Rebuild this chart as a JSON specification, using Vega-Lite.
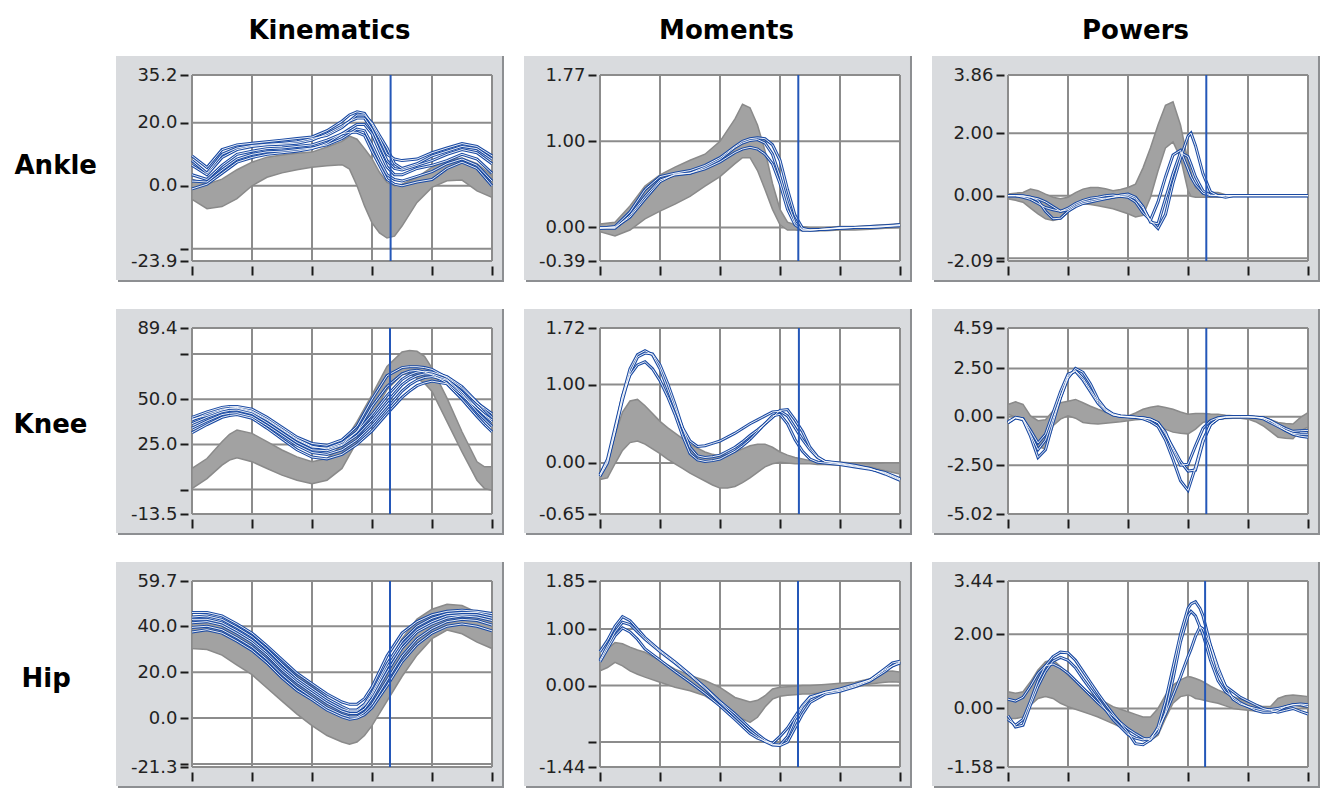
{
"$schema": "https://vega.github.io/schema/vega-lite/v6.json",
"background": "white",
"padding": {"left": 13, "top": 17, "right": 2, "bottom": 1},
"autosize": {"type": "pad"},
"columns": 3,
"spacing": {"row": 67, "column": 108},
"bounds": "flush",
"datasets": {
"xgrid": [{"pct": 0}, {"pct": 20}, {"pct": 40}, {"pct": 60}, {"pct": 80}, {"pct": 100}],
"ygrid": [
{"panel": "AK", "val": 35.2}, {"panel": "AK", "val": 20}, {"panel": "AK", "val": 0}, {"panel": "AK", "val": -20}, {"panel": "AK", "val": -23.9},
{"panel": "AM", "val": 1.77}, {"panel": "AM", "val": 1}, {"panel": "AM", "val": 0}, {"panel": "AM", "val": -0.39},
{"panel": "AP", "val": 3.86}, {"panel": "AP", "val": 2}, {"panel": "AP", "val": 0}, {"panel": "AP", "val": -2}, {"panel": "AP", "val": -2.09},
{"panel": "KK", "val": 89.4}, {"panel": "KK", "val": 75}, {"panel": "KK", "val": 50}, {"panel": "KK", "val": 25}, {"panel": "KK", "val": 0}, {"panel": "KK", "val": -13.5},
{"panel": "KM", "val": 1.72}, {"panel": "KM", "val": 1}, {"panel": "KM", "val": 0}, {"panel": "KM", "val": -0.65},
{"panel": "KP", "val": 4.59}, {"panel": "KP", "val": 2.5}, {"panel": "KP", "val": 0}, {"panel": "KP", "val": -2.5}, {"panel": "KP", "val": -5.02},
{"panel": "HK", "val": 59.7}, {"panel": "HK", "val": 40}, {"panel": "HK", "val": 20}, {"panel": "HK", "val": 0}, {"panel": "HK", "val": -20}, {"panel": "HK", "val": -21.3},
{"panel": "HM", "val": 1.85}, {"panel": "HM", "val": 1}, {"panel": "HM", "val": 0}, {"panel": "HM", "val": -1}, {"panel": "HM", "val": -1.44},
{"panel": "HP", "val": 3.44}, {"panel": "HP", "val": 2}, {"panel": "HP", "val": 0}, {"panel": "HP", "val": -1.58}
],
"events": [
{"panel": "AK", "toeoff": 66.2}, {"panel": "AM", "toeoff": 66.1}, {"panel": "AP", "toeoff": 66.1},
{"panel": "KK", "toeoff": 66.0}, {"panel": "KM", "toeoff": 66.3}, {"panel": "KP", "toeoff": 66.1},
{"panel": "HK", "toeoff": 66.0}, {"panel": "HM", "toeoff": 66.0}, {"panel": "HP", "toeoff": 65.7}
],
"gait": [
{"panel":"AK","pct":0,"lo":-4.3,"hi":2.1,"t1":9.5,"t2":6.5,"t3":3.5,"t4":1.5,"t5":-1,"t6":8},
{"panel":"AK","pct":5,"lo":-7.3,"hi":0.5,"t1":5.8,"t2":3.5,"t3":2,"t4":1.2,"t5":0.5,"t6":4},
{"panel":"AK","pct":10,"lo":-6.6,"hi":2.1,"t1":11.5,"t2":9,"t3":6.5,"t4":5,"t5":4,"t6":10},
{"panel":"AK","pct":15,"lo":-4.1,"hi":5.1,"t1":13,"t2":11.5,"t3":10,"t4":8.5,"t5":7.5,"t6":12},
{"panel":"AK","pct":20,"lo":0,"hi":7.5,"t1":13.5,"t2":12.5,"t3":11,"t4":10,"t5":9,"t6":12.8},
{"panel":"AK","pct":25,"lo":2.7,"hi":9.1,"t1":14,"t2":13,"t3":11.8,"t4":10.8,"t5":10,"t6":13.2},
{"panel":"AK","pct":30,"lo":4.1,"hi":9.8,"t1":14.5,"t2":13.2,"t3":12,"t4":11,"t5":10.5,"t6":13.5},
{"panel":"AK","pct":35,"lo":5.1,"hi":10.3,"t1":15,"t2":13.5,"t3":12.5,"t4":11.5,"t5":11,"t6":14},
{"panel":"AK","pct":40,"lo":5.9,"hi":10.7,"t1":15.5,"t2":14.5,"t3":13,"t4":12,"t5":11.8,"t6":15},
{"panel":"AK","pct":45,"lo":6.4,"hi":12.3,"t1":17.5,"t2":16.5,"t3":14.5,"t4":13,"t5":13.5,"t6":16},
{"panel":"AK","pct":50,"lo":6.7,"hi":14.1,"t1":20.5,"t2":19,"t3":16.5,"t4":15,"t5":16.5,"t6":18.5},
{"panel":"AK","pct":52.5,"lo":5.3,"hi":15.8,"t1":22.5,"t2":20.5,"t3":18,"t4":16.5,"t5":17,"t6":20.5},
{"panel":"AK","pct":55,"lo":0,"hi":14.8,"t1":23.5,"t2":21.5,"t3":19.5,"t4":18,"t5":17,"t6":22.5},
{"panel":"AK","pct":57.5,"lo":-6.4,"hi":11.8,"t1":23,"t2":21.5,"t3":19.5,"t4":17.5,"t5":16,"t6":22.5},
{"panel":"AK","pct":60,"lo":-11.8,"hi":8.6,"t1":19.5,"t2":18,"t3":16.5,"t4":13,"t5":11,"t6":20},
{"panel":"AK","pct":62.5,"lo":-15,"hi":4.3,"t1":15,"t2":13,"t3":11,"t4":8,"t5":6.5,"t6":16},
{"panel":"AK","pct":65,"lo":-16.6,"hi":1.1,"t1":10,"t2":8,"t3":6,"t4":3.5,"t5":2,"t6":12},
{"panel":"AK","pct":67.5,"lo":-16,"hi":0,"t1":8.5,"t2":5.5,"t3":3.5,"t4":2,"t5":0.5,"t6":7},
{"panel":"AK","pct":70,"lo":-12.8,"hi":0.5,"t1":8,"t2":5,"t3":3.5,"t4":1.5,"t5":0,"t6":5.5},
{"panel":"AK","pct":75,"lo":-5.3,"hi":2.7,"t1":8.5,"t2":6.5,"t3":5.5,"t4":3,"t5":1.2,"t6":7},
{"panel":"AK","pct":80,"lo":-0.5,"hi":5.9,"t1":10.5,"t2":8,"t3":6.5,"t4":4.5,"t5":2,"t6":9.5},
{"panel":"AK","pct":85,"lo":1.6,"hi":8,"t1":12,"t2":10,"t3":8,"t4":7,"t5":5.5,"t6":11},
{"panel":"AK","pct":90,"lo":1.8,"hi":8.8,"t1":13.4,"t2":11.5,"t3":10,"t4":8.5,"t5":7.5,"t6":12.5},
{"panel":"AK","pct":95,"lo":-1.6,"hi":7,"t1":12.5,"t2":10.5,"t3":8.5,"t4":6.5,"t5":5.5,"t6":11.8},
{"panel":"AK","pct":100,"lo":-3.7,"hi":3.2,"t1":9.5,"t2":7,"t3":4,"t4":1.5,"t5":0,"t6":8.5},

{"panel":"KK","pct":0,"lo":0.6,"hi":11.7,"t1":40,"t2":38.5,"t3":36.5,"t4":34,"t5":31.5,"t6":39},
{"panel":"KK","pct":5,"lo":6.1,"hi":17.2,"t1":43,"t2":42,"t3":40,"t4":38,"t5":36,"t6":41},
{"panel":"KK","pct":10,"lo":13.5,"hi":26.5,"t1":45.5,"t2":44.5,"t3":43,"t4":41.5,"t5":40,"t6":44},
{"panel":"KK","pct":12.5,"lo":16.3,"hi":30.6,"t1":46,"t2":45,"t3":43.8,"t4":42.2,"t5":41,"t6":45},
{"panel":"KK","pct":15,"lo":17.6,"hi":33,"t1":46,"t2":45,"t3":44,"t4":42.5,"t5":41.5,"t6":45.5},
{"panel":"KK","pct":20,"lo":15.4,"hi":31.1,"t1":44.5,"t2":43,"t3":42,"t4":40.5,"t5":39.5,"t6":43.5},
{"panel":"KK","pct":25,"lo":11.7,"hi":26.5,"t1":40,"t2":38.5,"t3":37,"t4":35.5,"t5":34,"t6":39},
{"panel":"KK","pct":30,"lo":8,"hi":21.9,"t1":34.5,"t2":33,"t3":31.5,"t4":30,"t5":28,"t6":33.5},
{"panel":"KK","pct":35,"lo":5.2,"hi":18.1,"t1":29,"t2":27.5,"t3":26,"t4":24.5,"t5":22,"t6":28},
{"panel":"KK","pct":40,"lo":3.3,"hi":15.4,"t1":25.5,"t2":23.5,"t3":22,"t4":20.5,"t5":18,"t6":24},
{"panel":"KK","pct":45,"lo":5.2,"hi":17.2,"t1":24.5,"t2":23,"t3":21.5,"t4":19.5,"t5":17,"t6":22.5},
{"panel":"KK","pct":50,"lo":11.7,"hi":24.6,"t1":27.5,"t2":26,"t3":24.5,"t4":22,"t5":19.5,"t6":25},
{"panel":"KK","pct":55,"lo":26.5,"hi":37.6,"t1":35,"t2":32,"t3":30,"t4":27.5,"t5":25,"t6":32},
{"panel":"KK","pct":60,"lo":41.3,"hi":52.4,"t1":50,"t2":41.5,"t3":38.5,"t4":35.5,"t5":32.5,"t6":46},
{"panel":"KK","pct":65,"lo":55.2,"hi":68.1,"t1":63,"t2":52,"t3":48.5,"t4":45,"t5":42,"t6":57},
{"panel":"KK","pct":70,"lo":63.5,"hi":76.1,"t1":67.5,"t2":61,"t3":58,"t4":54.5,"t5":51,"t6":64},
{"panel":"KK","pct":72.5,"lo":64.4,"hi":76.9,"t1":68,"t2":63.5,"t3":61,"t4":58,"t5":54.5,"t6":65.5},
{"panel":"KK","pct":75,"lo":61.5,"hi":76.5,"t1":68,"t2":65,"t3":63,"t4":60.5,"t5":57.5,"t6":66},
{"panel":"KK","pct":77.5,"lo":58.9,"hi":73.7,"t1":67.5,"t2":65.5,"t3":64,"t4":62,"t5":59,"t6":65},
{"panel":"KK","pct":80,"lo":54.3,"hi":67.2,"t1":66.5,"t2":65,"t3":64,"t4":62.5,"t5":60,"t6":63.5},
{"panel":"KK","pct":85,"lo":37.6,"hi":50.6,"t1":62,"t2":62.5,"t3":61,"t4":60.5,"t5":58.5,"t6":59},
{"panel":"KK","pct":90,"lo":20.9,"hi":32,"t1":56,"t2":57,"t3":54,"t4":53,"t5":50,"t6":52},
{"panel":"KK","pct":95,"lo":5.2,"hi":15.4,"t1":48,"t2":48.5,"t3":45,"t4":43,"t5":40.5,"t6":45},
{"panel":"KK","pct":97.5,"lo":0.6,"hi":12.6,"t1":45,"t2":44,"t3":41,"t4":39,"t5":36,"t6":41.5},
{"panel":"KK","pct":100,"lo":-0.4,"hi":12.6,"t1":42,"t2":40,"t3":37.5,"t4":35,"t5":32,"t6":38.5},

{"panel":"HK","pct":0,"lo":30.3,"hi":41.7,"t1":46,"t2":44,"t3":41.5,"t4":39.5,"t5":37.5,"t6":43},
{"panel":"HK","pct":5,"lo":29.9,"hi":42,"t1":46,"t2":44.5,"t3":42,"t4":40,"t5":38.5,"t6":43},
{"panel":"HK","pct":10,"lo":27.4,"hi":40.3,"t1":44.5,"t2":43,"t3":40.5,"t4":38.5,"t5":37,"t6":41.5},
{"panel":"HK","pct":15,"lo":23.1,"hi":37.4,"t1":41,"t2":39.5,"t3":37,"t4":35,"t5":33.5,"t6":38},
{"panel":"HK","pct":20,"lo":18.9,"hi":33.9,"t1":37,"t2":35.5,"t3":33,"t4":31,"t5":29.5,"t6":34},
{"panel":"HK","pct":25,"lo":13.1,"hi":28.9,"t1":31.5,"t2":30,"t3":27.5,"t4":25.5,"t5":24,"t6":28.5},
{"panel":"HK","pct":30,"lo":7.4,"hi":23.9,"t1":25.5,"t2":23.5,"t3":21,"t4":19,"t5":17.5,"t6":22},
{"panel":"HK","pct":35,"lo":1.7,"hi":18.9,"t1":19.5,"t2":17.5,"t3":15.5,"t4":13.5,"t5":12,"t6":16.5},
{"panel":"HK","pct":40,"lo":-3.3,"hi":13.9,"t1":15,"t2":13,"t3":11,"t4":9,"t5":8,"t6":12},
{"panel":"HK","pct":45,"lo":-7.6,"hi":8.9,"t1":10.5,"t2":8.5,"t3":6.5,"t4":4.5,"t5":3.5,"t6":7.5},
{"panel":"HK","pct":50,"lo":-10.4,"hi":4.6,"t1":7,"t2":5,"t3":3,"t4":1.5,"t5":0.5,"t6":4},
{"panel":"HK","pct":52.5,"lo":-11.4,"hi":3.1,"t1":6,"t2":3.5,"t3":2,"t4":0.5,"t5":-0.5,"t6":3},
{"panel":"HK","pct":55,"lo":-10.4,"hi":3.1,"t1":6,"t2":3.5,"t3":2,"t4":0.5,"t5":0,"t6":3},
{"panel":"HK","pct":57.5,"lo":-7.6,"hi":5.3,"t1":8.5,"t2":6,"t3":4,"t4":2.5,"t5":1.5,"t6":5.5},
{"panel":"HK","pct":60,"lo":-3.3,"hi":10.3,"t1":13.5,"t2":11,"t3":8.5,"t4":6,"t5":4.5,"t6":10},
{"panel":"HK","pct":65,"lo":7.4,"hi":23.1,"t1":27,"t2":23.5,"t3":20,"t4":16.5,"t5":14,"t6":22},
{"panel":"HK","pct":70,"lo":18.1,"hi":34.6,"t1":37,"t2":33.5,"t3":30.5,"t4":27,"t5":24.5,"t6":32},
{"panel":"HK","pct":75,"lo":27.4,"hi":43.1,"t1":42,"t2":40,"t3":37.5,"t4":34.5,"t5":32,"t6":38.5},
{"panel":"HK","pct":80,"lo":34.6,"hi":47.4,"t1":45,"t2":43.5,"t3":41,"t4":39,"t5":37,"t6":42},
{"panel":"HK","pct":85,"lo":38.3,"hi":49.6,"t1":46.5,"t2":45.5,"t3":43.5,"t4":42,"t5":40,"t6":44.5},
{"panel":"HK","pct":90,"lo":36.7,"hi":49,"t1":47,"t2":46,"t3":44.5,"t4":43,"t5":41,"t6":45},
{"panel":"HK","pct":95,"lo":33.1,"hi":46,"t1":46.5,"t2":46,"t3":44,"t4":42.5,"t5":40,"t6":45},
{"panel":"HK","pct":100,"lo":30.3,"hi":44.6,"t1":45.5,"t2":44.5,"t3":42.5,"t4":40.5,"t5":38,"t6":43.5},

{"panel":"AM","pct":0,"lo":-0.05,"hi":0.04,"t1":-0.01,"t2":-0.01,"t3":0},
{"panel":"AM","pct":5,"lo":-0.1,"hi":0.06,"t1":0.01,"t2":-0.01,"t3":0},
{"panel":"AM","pct":10,"lo":-0.03,"hi":0.25,"t1":0.18,"t2":0.14,"t3":0.12},
{"panel":"AM","pct":15,"lo":0.1,"hi":0.48,"t1":0.44,"t2":0.36,"t3":0.33},
{"panel":"AM","pct":20,"lo":0.19,"hi":0.61,"t1":0.59,"t2":0.55,"t3":0.53},
{"panel":"AM","pct":25,"lo":0.27,"hi":0.7,"t1":0.63,"t2":0.61,"t3":0.62},
{"panel":"AM","pct":30,"lo":0.36,"hi":0.78,"t1":0.66,"t2":0.63,"t3":0.63},
{"panel":"AM","pct":35,"lo":0.48,"hi":0.85,"t1":0.72,"t2":0.68,"t3":0.7},
{"panel":"AM","pct":40,"lo":0.59,"hi":1,"t1":0.81,"t2":0.76,"t3":0.79},
{"panel":"AM","pct":45,"lo":0.74,"hi":1.26,"t1":0.94,"t2":0.87,"t3":0.93},
{"panel":"AM","pct":47.5,"lo":0.81,"hi":1.43,"t1":1,"t2":0.91,"t3":0.98},
{"panel":"AM","pct":50,"lo":0.81,"hi":1.39,"t1":1.03,"t2":0.93,"t3":1.01},
{"panel":"AM","pct":52.5,"lo":0.66,"hi":1.19,"t1":1.04,"t2":0.91,"t3":1.02},
{"panel":"AM","pct":55,"lo":0.44,"hi":0.89,"t1":1.03,"t2":0.85,"t3":0.98},
{"panel":"AM","pct":57.5,"lo":0.21,"hi":0.51,"t1":0.96,"t2":0.74,"t3":0.85},
{"panel":"AM","pct":60,"lo":0.03,"hi":0.21,"t1":0.78,"t2":0.51,"t3":0.59},
{"panel":"AM","pct":62.5,"lo":-0.03,"hi":0.06,"t1":0.44,"t2":0.21,"t3":0.29},
{"panel":"AM","pct":65,"lo":-0.03,"hi":0.03,"t1":0.14,"t2":0.03,"t3":0.06},
{"panel":"AM","pct":67.5,"lo":-0.04,"hi":0.01,"t1":-0.01,"t2":-0.03,"t3":-0.03},
{"panel":"AM","pct":70,"lo":-0.04,"hi":0,"t1":-0.03,"t2":-0.03,"t3":-0.03},
{"panel":"AM","pct":75,"lo":-0.04,"hi":0,"t1":-0.02,"t2":-0.02,"t3":-0.02},
{"panel":"AM","pct":80,"lo":-0.03,"hi":0.01,"t1":0,"t2":-0.01,"t3":-0.01},
{"panel":"AM","pct":85,"lo":-0.03,"hi":0.01,"t1":0,"t2":0,"t3":0},
{"panel":"AM","pct":90,"lo":-0.02,"hi":0.02,"t1":0.01,"t2":0,"t3":0},
{"panel":"AM","pct":95,"lo":-0.01,"hi":0.03,"t1":0.02,"t2":0.01,"t3":0.01},
{"panel":"AM","pct":100,"lo":0,"hi":0.04,"t1":0.03,"t2":0.02,"t3":0.03},

{"panel":"AP","pct":0,"lo":-0.1,"hi":0.05,"t1":0,"t2":0,"t3":0},
{"panel":"AP","pct":2.5,"lo":-0.15,"hi":0.08,"t1":0,"t2":0,"t3":0},
{"panel":"AP","pct":5,"lo":-0.21,"hi":0.1,"t1":-0.05,"t2":-0.02,"t3":0},
{"panel":"AP","pct":7.5,"lo":-0.4,"hi":0.21,"t1":-0.12,"t2":-0.05,"t3":-0.05},
{"panel":"AP","pct":10,"lo":-0.58,"hi":0.16,"t1":-0.25,"t2":-0.15,"t3":-0.1},
{"panel":"AP","pct":12.5,"lo":-0.74,"hi":0.05,"t1":-0.38,"t2":-0.5,"t3":-0.2},
{"panel":"AP","pct":15,"lo":-0.79,"hi":-0.05,"t1":-0.45,"t2":-0.74,"t3":-0.35},
{"panel":"AP","pct":17.5,"lo":-0.74,"hi":-0.1,"t1":-0.5,"t2":-0.72,"t3":-0.5},
{"panel":"AP","pct":20,"lo":-0.53,"hi":-0.05,"t1":-0.4,"t2":-0.5,"t3":-0.45},
{"panel":"AP","pct":22.5,"lo":-0.35,"hi":0.1,"t1":-0.25,"t2":-0.35,"t3":-0.3},
{"panel":"AP","pct":25,"lo":-0.26,"hi":0.21,"t1":-0.15,"t2":-0.25,"t3":-0.2},
{"panel":"AP","pct":27.5,"lo":-0.28,"hi":0.26,"t1":-0.08,"t2":-0.2,"t3":-0.15},
{"panel":"AP","pct":30,"lo":-0.32,"hi":0.26,"t1":-0.05,"t2":-0.15,"t3":-0.1},
{"panel":"AP","pct":32.5,"lo":-0.37,"hi":0.22,"t1":0,"t2":-0.1,"t3":-0.08},
{"panel":"AP","pct":35,"lo":-0.42,"hi":0.16,"t1":0.02,"t2":-0.05,"t3":-0.05},
{"panel":"AP","pct":37.5,"lo":-0.5,"hi":0.2,"t1":-0.02,"t2":0.02,"t3":-0.02},
{"panel":"AP","pct":40,"lo":-0.58,"hi":0.26,"t1":-0.05,"t2":0.05,"t3":0},
{"panel":"AP","pct":42.5,"lo":-0.68,"hi":0.37,"t1":-0.2,"t2":-0.05,"t3":-0.1},
{"panel":"AP","pct":45,"lo":-0.63,"hi":0.89,"t1":-0.55,"t2":-0.35,"t3":-0.4},
{"panel":"AP","pct":47.5,"lo":-0.05,"hi":1.53,"t1":-0.78,"t2":-0.85,"t3":-0.8},
{"panel":"AP","pct":50,"lo":0.79,"hi":2.26,"t1":-0.2,"t2":-0.9,"t3":-1.05},
{"panel":"AP","pct":52.5,"lo":1.53,"hi":2.89,"t1":0.6,"t2":-0.1,"t3":-0.6},
{"panel":"AP","pct":55,"lo":1.72,"hi":3,"t1":1.3,"t2":0.7,"t3":0.4},
{"panel":"AP","pct":57.5,"lo":1.21,"hi":2.26,"t1":1.45,"t2":1.38,"t3":1.2},
{"panel":"AP","pct":60,"lo":0.16,"hi":1.1,"t1":0.85,"t2":1.25,"t3":1.9},
{"panel":"AP","pct":61,"lo":-0.02,"hi":0.75,"t1":0.6,"t2":1,"t3":2},
{"panel":"AP","pct":62.5,"lo":-0.05,"hi":0.26,"t1":0.35,"t2":0.6,"t3":1.6},
{"panel":"AP","pct":65,"lo":-0.05,"hi":0.1,"t1":0.08,"t2":0.15,"t3":0.7},
{"panel":"AP","pct":67.5,"lo":-0.05,"hi":0.1,"t1":0,"t2":0.02,"t3":0.12},
{"panel":"AP","pct":70,"lo":-0.05,"hi":0.1,"t1":0,"t2":0,"t3":0},
{"panel":"AP","pct":72.5,"lo":-0.03,"hi":0.03,"t1":0,"t2":0,"t3":-0.05},
{"panel":"AP","pct":75,"lo":-0.02,"hi":0.02,"t1":0,"t2":0,"t3":0},
{"panel":"AP","pct":80,"lo":-0.02,"hi":0.02,"t1":0,"t2":0,"t3":0},
{"panel":"AP","pct":85,"lo":-0.02,"hi":0.02,"t1":0,"t2":0,"t3":0},
{"panel":"AP","pct":90,"lo":-0.02,"hi":0.02,"t1":0,"t2":0,"t3":0},
{"panel":"AP","pct":95,"lo":-0.02,"hi":0.02,"t1":0,"t2":0,"t3":0},
{"panel":"AP","pct":100,"lo":-0.02,"hi":0.02,"t1":0,"t2":0,"t3":0},

{"panel":"KM","pct":0,"lo":-0.21,"hi":-0.13,"t1":-0.15,"t2":-0.15,"t3":-0.17},
{"panel":"KM","pct":2.5,"lo":-0.19,"hi":0.03,"t1":0.05,"t2":0.02,"t3":0},
{"panel":"KM","pct":5,"lo":-0.01,"hi":0.36,"t1":0.45,"t2":0.4,"t3":0.4},
{"panel":"KM","pct":7.5,"lo":0.16,"hi":0.65,"t1":0.85,"t2":0.8,"t3":0.85},
{"panel":"KM","pct":10,"lo":0.26,"hi":0.79,"t1":1.2,"t2":1.15,"t3":1.12},
{"panel":"KM","pct":12.5,"lo":0.28,"hi":0.81,"t1":1.38,"t2":1.35,"t3":1.25},
{"panel":"KM","pct":15,"lo":0.24,"hi":0.73,"t1":1.43,"t2":1.4,"t3":1.29},
{"panel":"KM","pct":17.5,"lo":0.18,"hi":0.63,"t1":1.38,"t2":1.39,"t3":1.2},
{"panel":"KM","pct":20,"lo":0.12,"hi":0.53,"t1":1.2,"t2":1.25,"t3":1.05},
{"panel":"KM","pct":22.5,"lo":0.05,"hi":0.45,"t1":0.95,"t2":1.02,"t3":0.85},
{"panel":"KM","pct":25,"lo":-0.01,"hi":0.38,"t1":0.7,"t2":0.75,"t3":0.62},
{"panel":"KM","pct":27.5,"lo":-0.07,"hi":0.31,"t1":0.45,"t2":0.45,"t3":0.35},
{"panel":"KM","pct":30,"lo":-0.13,"hi":0.24,"t1":0.28,"t2":0.2,"t3":0.12},
{"panel":"KM","pct":32.5,"lo":-0.18,"hi":0.19,"t1":0.21,"t2":0.09,"t3":0.04},
{"panel":"KM","pct":35,"lo":-0.23,"hi":0.14,"t1":0.22,"t2":0.07,"t3":0.02},
{"panel":"KM","pct":37.5,"lo":-0.28,"hi":0.11,"t1":0.25,"t2":0.08,"t3":0.03},
{"panel":"KM","pct":40,"lo":-0.32,"hi":0.09,"t1":0.28,"t2":0.1,"t3":0.05},
{"panel":"KM","pct":42.5,"lo":-0.32,"hi":0.11,"t1":0.33,"t2":0.15,"t3":0.1},
{"panel":"KM","pct":45,"lo":-0.3,"hi":0.14,"t1":0.38,"t2":0.2,"t3":0.15},
{"panel":"KM","pct":47.5,"lo":-0.25,"hi":0.18,"t1":0.44,"t2":0.27,"t3":0.22},
{"panel":"KM","pct":50,"lo":-0.19,"hi":0.22,"t1":0.5,"t2":0.35,"t3":0.3},
{"panel":"KM","pct":52.5,"lo":-0.12,"hi":0.24,"t1":0.55,"t2":0.42,"t3":0.4},
{"panel":"KM","pct":55,"lo":-0.05,"hi":0.24,"t1":0.6,"t2":0.5,"t3":0.5},
{"panel":"KM","pct":57.5,"lo":-0.01,"hi":0.2,"t1":0.65,"t2":0.58,"t3":0.6},
{"panel":"KM","pct":60,"lo":0.01,"hi":0.14,"t1":0.66,"t2":0.67,"t3":0.62},
{"panel":"KM","pct":62.5,"lo":0,"hi":0.1,"t1":0.6,"t2":0.68,"t3":0.5},
{"panel":"KM","pct":65,"lo":-0.01,"hi":0.07,"t1":0.45,"t2":0.55,"t3":0.3},
{"panel":"KM","pct":67.5,"lo":-0.01,"hi":0.05,"t1":0.3,"t2":0.4,"t3":0.15},
{"panel":"KM","pct":70,"lo":-0.01,"hi":0.03,"t1":0.17,"t2":0.2,"t3":0.05},
{"panel":"KM","pct":72.5,"lo":-0.02,"hi":0.02,"t1":0.07,"t2":0.08,"t3":0.01},
{"panel":"KM","pct":75,"lo":-0.02,"hi":0.02,"t1":0.02,"t2":0.02,"t3":0},
{"panel":"KM","pct":80,"lo":-0.03,"hi":0.01,"t1":-0.01,"t2":0,"t3":-0.02},
{"panel":"KM","pct":85,"lo":-0.04,"hi":0,"t1":-0.04,"t2":-0.03,"t3":-0.05},
{"panel":"KM","pct":90,"lo":-0.05,"hi":-0.01,"t1":-0.07,"t2":-0.07,"t3":-0.08},
{"panel":"KM","pct":95,"lo":-0.1,"hi":0,"t1":-0.13,"t2":-0.14,"t3":-0.12},
{"panel":"KM","pct":100,"lo":-0.14,"hi":0,"t1":-0.21,"t2":-0.22,"t3":-0.2},

{"panel":"KP","pct":0,"lo":0.14,"hi":0.64,"t1":-0.3,"t2":-0.25,"t3":-0.3},
{"panel":"KP","pct":2.5,"lo":0,"hi":0.78,"t1":-0.05,"t2":-0.02,"t3":-0.05},
{"panel":"KP","pct":5,"lo":-0.2,"hi":0.64,"t1":-0.1,"t2":-0.1,"t3":-0.15},
{"panel":"KP","pct":7.5,"lo":-0.88,"hi":0.05,"t1":-0.7,"t2":-0.9,"t3":-1},
{"panel":"KP","pct":10,"lo":-1.55,"hi":-0.2,"t1":-1.35,"t2":-1.7,"t3":-2.1},
{"panel":"KP","pct":12.5,"lo":-1.65,"hi":-0.15,"t1":-0.9,"t2":-1.2,"t3":-1.7},
{"panel":"KP","pct":15,"lo":-0.46,"hi":0.3,"t1":0.2,"t2":-0.1,"t3":-0.3},
{"panel":"KP","pct":17.5,"lo":-0.12,"hi":0.73,"t1":1.3,"t2":1,"t3":1},
{"panel":"KP","pct":20,"lo":0.05,"hi":0.81,"t1":2.2,"t2":2,"t3":2.1},
{"panel":"KP","pct":22.5,"lo":-0.07,"hi":0.9,"t1":2.35,"t2":2.5,"t3":2.4},
{"panel":"KP","pct":25,"lo":-0.29,"hi":0.73,"t1":1.9,"t2":2.3,"t3":2},
{"panel":"KP","pct":27.5,"lo":-0.35,"hi":0.55,"t1":1.3,"t2":1.7,"t3":1.4},
{"panel":"KP","pct":30,"lo":-0.37,"hi":0.39,"t1":0.7,"t2":0.9,"t3":0.8},
{"panel":"KP","pct":32.5,"lo":-0.33,"hi":0.25,"t1":0.3,"t2":0.4,"t3":0.35},
{"panel":"KP","pct":35,"lo":-0.29,"hi":0.14,"t1":0.1,"t2":0.15,"t3":0.1},
{"panel":"KP","pct":37.5,"lo":-0.25,"hi":0.08,"t1":0.03,"t2":0.05,"t3":0.02},
{"panel":"KP","pct":40,"lo":-0.2,"hi":0.05,"t1":0,"t2":0.02,"t3":0},
{"panel":"KP","pct":42.5,"lo":-0.15,"hi":0.2,"t1":-0.02,"t2":-0.02,"t3":-0.03},
{"panel":"KP","pct":45,"lo":-0.12,"hi":0.39,"t1":-0.05,"t2":-0.05,"t3":-0.1},
{"panel":"KP","pct":47.5,"lo":-0.3,"hi":0.5,"t1":-0.12,"t2":-0.12,"t3":-0.25},
{"panel":"KP","pct":50,"lo":-0.46,"hi":0.56,"t1":-0.3,"t2":-0.3,"t3":-0.5},
{"panel":"KP","pct":52.5,"lo":-0.65,"hi":0.48,"t1":-0.8,"t2":-0.9,"t3":-1.2},
{"panel":"KP","pct":55,"lo":-0.79,"hi":0.39,"t1":-1.7,"t2":-1.6,"t3":-2.2},
{"panel":"KP","pct":57.5,"lo":-0.85,"hi":0.25,"t1":-2.5,"t2":-2.3,"t3":-3.3},
{"panel":"KP","pct":60,"lo":-0.88,"hi":0.14,"t1":-2.45,"t2":-2.8,"t3":-3.8},
{"panel":"KP","pct":62.5,"lo":-0.63,"hi":0.17,"t1":-1.5,"t2":-2.75,"t3":-2.6},
{"panel":"KP","pct":65,"lo":-0.29,"hi":0.17,"t1":-0.6,"t2":-1.3,"t3":-1.2},
{"panel":"KP","pct":67.5,"lo":-0.18,"hi":0.15,"t1":-0.2,"t2":-0.4,"t3":-0.4},
{"panel":"KP","pct":70,"lo":-0.12,"hi":0.14,"t1":-0.05,"t2":-0.1,"t3":-0.1},
{"panel":"KP","pct":72.5,"lo":-0.09,"hi":0.08,"t1":0,"t2":-0.02,"t3":-0.02},
{"panel":"KP","pct":75,"lo":-0.07,"hi":0.05,"t1":0,"t2":0,"t3":0},
{"panel":"KP","pct":77.5,"lo":-0.07,"hi":0.05,"t1":0,"t2":0,"t3":0},
{"panel":"KP","pct":80,"lo":-0.12,"hi":0.05,"t1":0,"t2":0,"t3":0},
{"panel":"KP","pct":82.5,"lo":-0.25,"hi":0,"t1":-0.02,"t2":-0.02,"t3":-0.03},
{"panel":"KP","pct":85,"lo":-0.46,"hi":-0.03,"t1":-0.05,"t2":-0.05,"t3":-0.1},
{"panel":"KP","pct":87.5,"lo":-0.75,"hi":-0.15,"t1":-0.2,"t2":-0.2,"t3":-0.3},
{"panel":"KP","pct":90,"lo":-1.05,"hi":-0.29,"t1":-0.4,"t2":-0.45,"t3":-0.5},
{"panel":"KP","pct":92.5,"lo":-1.1,"hi":-0.35,"t1":-0.6,"t2":-0.7,"t3":-0.7},
{"panel":"KP","pct":95,"lo":-1.13,"hi":-0.37,"t1":-0.75,"t2":-0.9,"t3":-0.85},
{"panel":"KP","pct":97.5,"lo":-0.71,"hi":-0.03,"t1":-0.72,"t2":-1,"t3":-0.9},
{"panel":"KP","pct":100,"lo":-0.54,"hi":0.22,"t1":-0.7,"t2":-1.05,"t3":-0.9},

{"panel":"HM","pct":0,"lo":0.26,"hi":0.47,"t1":0.6,"t2":0.45,"t3":0.42},
{"panel":"HM","pct":2.5,"lo":0.32,"hi":0.65,"t1":0.8,"t2":0.7,"t3":0.65},
{"panel":"HM","pct":5,"lo":0.41,"hi":0.76,"t1":1.05,"t2":0.95,"t3":0.88},
{"panel":"HM","pct":7.5,"lo":0.35,"hi":0.74,"t1":1.22,"t2":1.12,"t3":1.02},
{"panel":"HM","pct":10,"lo":0.26,"hi":0.68,"t1":1.15,"t2":1.08,"t3":0.95},
{"panel":"HM","pct":12.5,"lo":0.2,"hi":0.63,"t1":1,"t2":0.95,"t3":0.82},
{"panel":"HM","pct":15,"lo":0.15,"hi":0.59,"t1":0.85,"t2":0.82,"t3":0.65},
{"panel":"HM","pct":20,"lo":0.06,"hi":0.44,"t1":0.62,"t2":0.6,"t3":0.45},
{"panel":"HM","pct":25,"lo":-0.03,"hi":0.29,"t1":0.42,"t2":0.4,"t3":0.25},
{"panel":"HM","pct":30,"lo":-0.09,"hi":0.18,"t1":0.2,"t2":0.18,"t3":0.06},
{"panel":"HM","pct":35,"lo":-0.18,"hi":0.09,"t1":-0.03,"t2":-0.05,"t3":-0.14},
{"panel":"HM","pct":40,"lo":-0.35,"hi":-0.03,"t1":-0.28,"t2":-0.3,"t3":-0.36},
{"panel":"HM","pct":45,"lo":-0.53,"hi":-0.21,"t1":-0.5,"t2":-0.55,"t3":-0.6},
{"panel":"HM","pct":50,"lo":-0.65,"hi":-0.29,"t1":-0.75,"t2":-0.8,"t3":-0.85},
{"panel":"HM","pct":52.5,"lo":-0.56,"hi":-0.26,"t1":-0.86,"t2":-0.9,"t3":-0.93},
{"panel":"HM","pct":55,"lo":-0.38,"hi":-0.18,"t1":-0.96,"t2":-0.99,"t3":-0.98},
{"panel":"HM","pct":57.5,"lo":-0.24,"hi":-0.06,"t1":-1.04,"t2":-1.05,"t3":-1.02},
{"panel":"HM","pct":60,"lo":-0.19,"hi":-0.03,"t1":-1.05,"t2":-1.06,"t3":-0.9},
{"panel":"HM","pct":62.5,"lo":-0.17,"hi":-0.02,"t1":-0.9,"t2":-1,"t3":-0.75},
{"panel":"HM","pct":65,"lo":-0.16,"hi":-0.01,"t1":-0.6,"t2":-0.75,"t3":-0.55},
{"panel":"HM","pct":67.5,"lo":-0.15,"hi":0,"t1":-0.38,"t2":-0.5,"t3":-0.35},
{"panel":"HM","pct":70,"lo":-0.15,"hi":0,"t1":-0.22,"t2":-0.3,"t3":-0.2},
{"panel":"HM","pct":75,"lo":-0.12,"hi":0.02,"t1":-0.12,"t2":-0.15,"t3":-0.12},
{"panel":"HM","pct":80,"lo":-0.07,"hi":0.04,"t1":-0.08,"t2":-0.1,"t3":-0.06},
{"panel":"HM","pct":85,"lo":-0.03,"hi":0.06,"t1":0,"t2":-0.02,"t3":0.02},
{"panel":"HM","pct":90,"lo":0.03,"hi":0.12,"t1":0.1,"t2":0.08,"t3":0.1},
{"panel":"HM","pct":95,"lo":0.06,"hi":0.25,"t1":0.28,"t2":0.25,"t3":0.3},
{"panel":"HM","pct":97.5,"lo":0.07,"hi":0.26,"t1":0.35,"t2":0.35,"t3":0.4},
{"panel":"HM","pct":100,"lo":0.06,"hi":0.24,"t1":0.4,"t2":0.42,"t3":0.43},

{"panel":"HP","pct":0,"lo":-0.27,"hi":0.45,"t1":0.25,"t2":-0.3,"t3":-0.2},
{"panel":"HP","pct":2.5,"lo":-0.27,"hi":0.41,"t1":0.2,"t2":-0.45,"t3":-0.5},
{"panel":"HP","pct":5,"lo":-0.23,"hi":0.45,"t1":0.3,"t2":-0.3,"t3":-0.45},
{"panel":"HP","pct":7.5,"lo":0.09,"hi":0.72,"t1":0.6,"t2":0.2,"t3":0.1},
{"panel":"HP","pct":10,"lo":0.27,"hi":1.04,"t1":0.95,"t2":0.75,"t3":0.6},
{"panel":"HP","pct":12.5,"lo":0.32,"hi":1.26,"t1":1.15,"t2":1.15,"t3":1},
{"panel":"HP","pct":15,"lo":0.27,"hi":1.31,"t1":1.2,"t2":1.4,"t3":1.28},
{"panel":"HP","pct":17.5,"lo":0.14,"hi":1.13,"t1":1.1,"t2":1.52,"t3":1.38},
{"panel":"HP","pct":20,"lo":0.05,"hi":0.9,"t1":0.95,"t2":1.5,"t3":1.3},
{"panel":"HP","pct":22.5,"lo":-0.02,"hi":0.72,"t1":0.75,"t2":1.3,"t3":1.1},
{"panel":"HP","pct":25,"lo":-0.09,"hi":0.54,"t1":0.55,"t2":1,"t3":0.8},
{"panel":"HP","pct":27.5,"lo":-0.16,"hi":0.4,"t1":0.35,"t2":0.7,"t3":0.52},
{"panel":"HP","pct":30,"lo":-0.23,"hi":0.27,"t1":0.15,"t2":0.4,"t3":0.25},
{"panel":"HP","pct":32.5,"lo":-0.32,"hi":0.16,"t1":-0.03,"t2":0.12,"t3":-0.03},
{"panel":"HP","pct":35,"lo":-0.41,"hi":0.05,"t1":-0.2,"t2":-0.15,"t3":-0.3},
{"panel":"HP","pct":37.5,"lo":-0.5,"hi":-0.02,"t1":-0.38,"t2":-0.4,"t3":-0.5},
{"panel":"HP","pct":40,"lo":-0.59,"hi":-0.09,"t1":-0.55,"t2":-0.65,"t3":-0.7},
{"panel":"HP","pct":42.5,"lo":-0.68,"hi":-0.16,"t1":-0.68,"t2":-0.95,"t3":-0.8},
{"panel":"HP","pct":45,"lo":-0.77,"hi":-0.23,"t1":-0.8,"t2":-0.98,"t3":-0.85},
{"panel":"HP","pct":47.5,"lo":-0.86,"hi":-0.23,"t1":-0.85,"t2":-0.85,"t3":-0.8},
{"panel":"HP","pct":50,"lo":-0.72,"hi":0,"t1":-0.65,"t2":-0.5,"t3":-0.55},
{"panel":"HP","pct":52.5,"lo":-0.27,"hi":0.36,"t1":-0.1,"t2":0.2,"t3":-0.15},
{"panel":"HP","pct":55,"lo":0.14,"hi":0.63,"t1":0.8,"t2":1.1,"t3":0.35},
{"panel":"HP","pct":57.5,"lo":0.32,"hi":0.77,"t1":1.8,"t2":2,"t3":0.85},
{"panel":"HP","pct":60,"lo":0.36,"hi":0.86,"t1":2.5,"t2":2.7,"t3":1.4},
{"panel":"HP","pct":61,"lo":0.34,"hi":0.85,"t1":2.62,"t2":2.82,"t3":1.6},
{"panel":"HP","pct":62.5,"lo":0.27,"hi":0.81,"t1":2.5,"t2":2.88,"t3":1.95},
{"panel":"HP","pct":64,"lo":0.25,"hi":0.76,"t1":2.2,"t2":2.7,"t3":2.2},
{"panel":"HP","pct":65,"lo":0.23,"hi":0.72,"t1":2,"t2":2.5,"t3":2.15},
{"panel":"HP","pct":67.5,"lo":0.18,"hi":0.6,"t1":1.3,"t2":1.7,"t3":1.7},
{"panel":"HP","pct":70,"lo":0.14,"hi":0.5,"t1":0.75,"t2":1,"t3":1.1},
{"panel":"HP","pct":72.5,"lo":0.07,"hi":0.41,"t1":0.45,"t2":0.6,"t3":0.6},
{"panel":"HP","pct":75,"lo":0,"hi":0.32,"t1":0.3,"t2":0.45,"t3":0.25},
{"panel":"HP","pct":77.5,"lo":-0.03,"hi":0.25,"t1":0.15,"t2":0.3,"t3":0.12},
{"panel":"HP","pct":80,"lo":-0.05,"hi":0.18,"t1":0.05,"t2":0.2,"t3":0.05},
{"panel":"HP","pct":82.5,"lo":-0.07,"hi":0.11,"t1":-0.05,"t2":0.1,"t3":0},
{"panel":"HP","pct":85,"lo":-0.09,"hi":0.05,"t1":-0.1,"t2":0,"t3":-0.05},
{"panel":"HP","pct":87.5,"lo":-0.1,"hi":0.05,"t1":-0.1,"t2":-0.05,"t3":-0.03},
{"panel":"HP","pct":90,"lo":0,"hi":0.27,"t1":-0.05,"t2":-0.1,"t3":0},
{"panel":"HP","pct":92.5,"lo":0.07,"hi":0.34,"t1":0.05,"t2":-0.05,"t3":0.05},
{"panel":"HP","pct":95,"lo":0.09,"hi":0.36,"t1":0.1,"t2":0,"t3":0.1},
{"panel":"HP","pct":97.5,"lo":0.05,"hi":0.34,"t1":0.1,"t2":-0.08,"t3":0.12},
{"panel":"HP","pct":100,"lo":0,"hi":0.32,"t1":0.05,"t2":-0.15,"t3":0.1}
]
},
"concat": [
{
 "width": 300, "height": 186,
 "title": {"text": "Kinematics", "dx": -12.5},
 "layer": [
  {"data": {"values": [{}]}, "mark": {"type": "rect", "fill": "#8d8f92"},
   "encoding": {
    "x": {"datum": -24.67, "type": "quantitative", "scale": {"domain": [0, 100], "nice": false, "zero": false}, "axis": {"values": [0, 20, 40, 60, 80, 100], "tickCount": 20, "title": null, "zindex": 1}},
    "x2": {"datum": 104},
    "y": {"datum": -30.57, "type": "quantitative", "scale": {"domain": [-23.9, 35.2], "nice": false, "zero": false}, "axis": {"orient": "left", "tickCount": 20, "labelOverlap": false, "values": [35.2, 20, 0, -20, -23.9], "labelExpr": "datum.value == -20 ? '' : (datum.value < 0 ? '-' + format(-datum.value, '.1f') : format(datum.value, '.1f'))", "title": "Ankle", "titleX": -174, "titleY": 90, "zindex": 1}},
    "y2": {"datum": 41.24}}},
  {"data": {"values": [{}]}, "mark": {"type": "rect", "fill": "#d9dbde"},
   "encoding": {"x": {"datum": -25.33, "type": "quantitative"}, "x2": {"datum": 103.33}, "y": {"datum": -29.94, "type": "quantitative"}, "y2": {"datum": 41.24}}},
  {"data": {"values": [{}]}, "mark": {"type": "rect", "fill": "#ffffff"},
   "encoding": {"x": {"datum": 0, "type": "quantitative"}, "x2": {"datum": 100}, "y": {"datum": -23.9, "type": "quantitative"}, "y2": {"datum": 35.2}}},
  {"data": {"name": "ygrid"}, "transform": [{"filter": "datum.panel == 'AK'"}], "mark": {"type": "rule", "stroke": "#8c8c8c", "strokeWidth": 2}, "encoding": {"y": {"field": "val", "type": "quantitative"}}},
  {"data": {"name": "xgrid"}, "mark": {"type": "rule", "stroke": "#8c8c8c", "strokeWidth": 2}, "encoding": {"x": {"field": "pct", "type": "quantitative"}}},
  {"data": {"name": "gait"}, "transform": [{"filter": "datum.panel == 'AK'"}], "mark": {"type": "area", "fill": "#a2a2a2", "stroke": "#8a8a8a", "strokeWidth": 1.5}, "encoding": {"x": {"field": "pct", "type": "quantitative"}, "y": {"field": "hi", "type": "quantitative"}, "y2": {"field": "lo"}}},
  {"data": {"name": "gait"}, "transform": [{"filter": "datum.panel == 'AK'"}, {"fold": ["t1", "t2", "t3", "t4", "t5", "t6"], "as": ["trial", "val"]}], "mark": {"type": "line", "stroke": "#1a4aa3", "strokeWidth": 3}, "encoding": {"x": {"field": "pct", "type": "quantitative"}, "y": {"field": "val", "type": "quantitative"}, "detail": {"field": "trial", "type": "nominal"}}},
  {"data": {"name": "gait"}, "transform": [{"filter": "datum.panel == 'AK'"}, {"fold": ["t1", "t2", "t3", "t4", "t5", "t6"], "as": ["trial", "val"]}], "mark": {"type": "line", "stroke": "#ffffff", "strokeWidth": 0.9}, "encoding": {"x": {"field": "pct", "type": "quantitative"}, "y": {"field": "val", "type": "quantitative"}, "detail": {"field": "trial", "type": "nominal"}}},
  {"data": {"name": "events"}, "transform": [{"filter": "datum.panel == 'AK'"}], "mark": {"type": "rule", "stroke": "#2457b8", "strokeWidth": 2}, "encoding": {"x": {"field": "toeoff", "type": "quantitative"}}}
 ]
},
{
 "width": 300, "height": 186,
 "title": {"text": "Moments", "dx": -23.5},
 "layer": [
  {"data": {"values": [{}]}, "mark": {"type": "rect", "fill": "#8d8f92"},
   "encoding": {
    "x": {"datum": -24.67, "type": "quantitative", "scale": {"domain": [0, 100], "nice": false, "zero": false}, "axis": {"values": [0, 20, 40, 60, 80, 100], "tickCount": 20, "title": null, "zindex": 1}},
    "x2": {"datum": 104},
    "y": {"datum": -0.634, "type": "quantitative", "scale": {"domain": [-0.39, 1.77], "nice": false, "zero": false}, "axis": {"orient": "left", "tickCount": 20, "labelOverlap": false, "values": [1.77, 1, 0, -0.39], "labelExpr": "datum.value < 0 ? '-' + format(-datum.value, '.2f') : format(datum.value, '.2f')", "title": null, "zindex": 1}},
    "y2": {"datum": 1.991}}},
  {"data": {"values": [{}]}, "mark": {"type": "rect", "fill": "#d9dbde"},
   "encoding": {"x": {"datum": -25.33, "type": "quantitative"}, "x2": {"datum": 103.33}, "y": {"datum": -0.611, "type": "quantitative"}, "y2": {"datum": 1.991}}},
  {"data": {"values": [{}]}, "mark": {"type": "rect", "fill": "#ffffff"},
   "encoding": {"x": {"datum": 0, "type": "quantitative"}, "x2": {"datum": 100}, "y": {"datum": -0.39, "type": "quantitative"}, "y2": {"datum": 1.77}}},
  {"data": {"name": "ygrid"}, "transform": [{"filter": "datum.panel == 'AM'"}], "mark": {"type": "rule", "stroke": "#8c8c8c", "strokeWidth": 2}, "encoding": {"y": {"field": "val", "type": "quantitative"}}},
  {"data": {"name": "xgrid"}, "mark": {"type": "rule", "stroke": "#8c8c8c", "strokeWidth": 2}, "encoding": {"x": {"field": "pct", "type": "quantitative"}}},
  {"data": {"name": "gait"}, "transform": [{"filter": "datum.panel == 'AM'"}], "mark": {"type": "area", "fill": "#a2a2a2", "stroke": "#8a8a8a", "strokeWidth": 1.5}, "encoding": {"x": {"field": "pct", "type": "quantitative"}, "y": {"field": "hi", "type": "quantitative"}, "y2": {"field": "lo"}}},
  {"data": {"name": "gait"}, "transform": [{"filter": "datum.panel == 'AM'"}, {"fold": ["t1", "t2", "t3"], "as": ["trial", "val"]}], "mark": {"type": "line", "stroke": "#1a4aa3", "strokeWidth": 3}, "encoding": {"x": {"field": "pct", "type": "quantitative"}, "y": {"field": "val", "type": "quantitative"}, "detail": {"field": "trial", "type": "nominal"}}},
  {"data": {"name": "gait"}, "transform": [{"filter": "datum.panel == 'AM'"}, {"fold": ["t1", "t2", "t3"], "as": ["trial", "val"]}], "mark": {"type": "line", "stroke": "#ffffff", "strokeWidth": 0.9}, "encoding": {"x": {"field": "pct", "type": "quantitative"}, "y": {"field": "val", "type": "quantitative"}, "detail": {"field": "trial", "type": "nominal"}}},
  {"data": {"name": "events"}, "transform": [{"filter": "datum.panel == 'AM'"}], "mark": {"type": "rule", "stroke": "#2457b8", "strokeWidth": 2}, "encoding": {"x": {"field": "toeoff", "type": "quantitative"}}}
 ]
},
{
 "width": 300, "height": 186,
 "title": {"text": "Powers", "dx": -22.5},
 "layer": [
  {"data": {"values": [{}]}, "mark": {"type": "rect", "fill": "#8d8f92"},
   "encoding": {
    "x": {"datum": -24.67, "type": "quantitative", "scale": {"domain": [0, 100], "nice": false, "zero": false}, "axis": {"values": [0, 20, 40, 60, 80, 100], "tickCount": 20, "title": null, "zindex": 1}},
    "x2": {"datum": 104},
    "y": {"datum": -2.762, "type": "quantitative", "scale": {"domain": [-2.09, 3.86], "nice": false, "zero": false}, "axis": {"orient": "left", "tickCount": 20, "labelOverlap": false, "values": [3.86, 2, 0, -2, -2.09], "labelExpr": "datum.value == -2 ? '' : (datum.value < 0 ? '-' + format(-datum.value, '.2f') : format(datum.value, '.2f'))", "title": null, "zindex": 1}},
    "y2": {"datum": 4.468}}},
  {"data": {"values": [{}]}, "mark": {"type": "rect", "fill": "#d9dbde"},
   "encoding": {"x": {"datum": -25.33, "type": "quantitative"}, "x2": {"datum": 103.33}, "y": {"datum": -2.698, "type": "quantitative"}, "y2": {"datum": 4.468}}},
  {"data": {"values": [{}]}, "mark": {"type": "rect", "fill": "#ffffff"},
   "encoding": {"x": {"datum": 0, "type": "quantitative"}, "x2": {"datum": 100}, "y": {"datum": -2.09, "type": "quantitative"}, "y2": {"datum": 3.86}}},
  {"data": {"name": "ygrid"}, "transform": [{"filter": "datum.panel == 'AP'"}], "mark": {"type": "rule", "stroke": "#8c8c8c", "strokeWidth": 2}, "encoding": {"y": {"field": "val", "type": "quantitative"}}},
  {"data": {"name": "xgrid"}, "mark": {"type": "rule", "stroke": "#8c8c8c", "strokeWidth": 2}, "encoding": {"x": {"field": "pct", "type": "quantitative"}}},
  {"data": {"name": "gait"}, "transform": [{"filter": "datum.panel == 'AP'"}], "mark": {"type": "area", "fill": "#a2a2a2", "stroke": "#8a8a8a", "strokeWidth": 1.5}, "encoding": {"x": {"field": "pct", "type": "quantitative"}, "y": {"field": "hi", "type": "quantitative"}, "y2": {"field": "lo"}}},
  {"data": {"name": "gait"}, "transform": [{"filter": "datum.panel == 'AP'"}, {"fold": ["t1", "t2", "t3"], "as": ["trial", "val"]}], "mark": {"type": "line", "stroke": "#1a4aa3", "strokeWidth": 3}, "encoding": {"x": {"field": "pct", "type": "quantitative"}, "y": {"field": "val", "type": "quantitative"}, "detail": {"field": "trial", "type": "nominal"}}},
  {"data": {"name": "gait"}, "transform": [{"filter": "datum.panel == 'AP'"}, {"fold": ["t1", "t2", "t3"], "as": ["trial", "val"]}], "mark": {"type": "line", "stroke": "#ffffff", "strokeWidth": 0.9}, "encoding": {"x": {"field": "pct", "type": "quantitative"}, "y": {"field": "val", "type": "quantitative"}, "detail": {"field": "trial", "type": "nominal"}}},
  {"data": {"name": "events"}, "transform": [{"filter": "datum.panel == 'AP'"}], "mark": {"type": "rule", "stroke": "#2457b8", "strokeWidth": 2}, "encoding": {"x": {"field": "toeoff", "type": "quantitative"}}}
 ]
},
{
 "width": 300, "height": 186,
 "layer": [
  {"data": {"values": [{}]}, "mark": {"type": "rect", "fill": "#8d8f92"},
   "encoding": {
    "x": {"datum": -24.67, "type": "quantitative", "scale": {"domain": [0, 100], "nice": false, "zero": false}, "axis": {"values": [0, 20, 40, 60, 80, 100], "tickCount": 20, "title": null, "zindex": 1}},
    "x2": {"datum": 104},
    "y": {"datum": -25.12, "type": "quantitative", "scale": {"domain": [-13.5, 89.4], "nice": false, "zero": false}, "axis": {"orient": "left", "tickCount": 20, "labelOverlap": false, "values": [89.4, 75, 50, 25, 0, -13.5], "labelExpr": "datum.value == 75 || datum.value == 0 ? '' : (datum.value < 0 ? '-' + format(-datum.value, '.1f') : format(datum.value, '.1f'))", "title": "Knee", "titleX": -175, "titleY": 96, "zindex": 1}},
    "y2": {"datum": 99.91}}},
  {"data": {"values": [{}]}, "mark": {"type": "rect", "fill": "#d9dbde"},
   "encoding": {"x": {"datum": -25.33, "type": "quantitative"}, "x2": {"datum": 103.33}, "y": {"datum": -24.01, "type": "quantitative"}, "y2": {"datum": 99.91}}},
  {"data": {"values": [{}]}, "mark": {"type": "rect", "fill": "#ffffff"},
   "encoding": {"x": {"datum": 0, "type": "quantitative"}, "x2": {"datum": 100}, "y": {"datum": -13.5, "type": "quantitative"}, "y2": {"datum": 89.4}}},
  {"data": {"name": "ygrid"}, "transform": [{"filter": "datum.panel == 'KK'"}], "mark": {"type": "rule", "stroke": "#8c8c8c", "strokeWidth": 2}, "encoding": {"y": {"field": "val", "type": "quantitative"}}},
  {"data": {"name": "xgrid"}, "mark": {"type": "rule", "stroke": "#8c8c8c", "strokeWidth": 2}, "encoding": {"x": {"field": "pct", "type": "quantitative"}}},
  {"data": {"name": "gait"}, "transform": [{"filter": "datum.panel == 'KK'"}], "mark": {"type": "area", "fill": "#a2a2a2", "stroke": "#8a8a8a", "strokeWidth": 1.5}, "encoding": {"x": {"field": "pct", "type": "quantitative"}, "y": {"field": "hi", "type": "quantitative"}, "y2": {"field": "lo"}}},
  {"data": {"name": "gait"}, "transform": [{"filter": "datum.panel == 'KK'"}, {"fold": ["t1", "t2", "t3", "t4", "t5", "t6"], "as": ["trial", "val"]}], "mark": {"type": "line", "stroke": "#1a4aa3", "strokeWidth": 3}, "encoding": {"x": {"field": "pct", "type": "quantitative"}, "y": {"field": "val", "type": "quantitative"}, "detail": {"field": "trial", "type": "nominal"}}},
  {"data": {"name": "gait"}, "transform": [{"filter": "datum.panel == 'KK'"}, {"fold": ["t1", "t2", "t3", "t4", "t5", "t6"], "as": ["trial", "val"]}], "mark": {"type": "line", "stroke": "#ffffff", "strokeWidth": 0.9}, "encoding": {"x": {"field": "pct", "type": "quantitative"}, "y": {"field": "val", "type": "quantitative"}, "detail": {"field": "trial", "type": "nominal"}}},
  {"data": {"name": "events"}, "transform": [{"filter": "datum.panel == 'KK'"}], "mark": {"type": "rule", "stroke": "#2457b8", "strokeWidth": 2}, "encoding": {"x": {"field": "toeoff", "type": "quantitative"}}}
 ]
},
{
 "width": 300, "height": 186,
 "layer": [
  {"data": {"values": [{}]}, "mark": {"type": "rect", "fill": "#8d8f92"},
   "encoding": {
    "x": {"datum": -24.67, "type": "quantitative", "scale": {"domain": [0, 100], "nice": false, "zero": false}, "axis": {"values": [0, 20, 40, 60, 80, 100], "tickCount": 20, "title": null, "zindex": 1}},
    "x2": {"datum": 104},
    "y": {"datum": -0.918, "type": "quantitative", "scale": {"domain": [-0.65, 1.72], "nice": false, "zero": false}, "axis": {"orient": "left", "tickCount": 20, "labelOverlap": false, "values": [1.72, 1, 0, -0.65], "labelExpr": "datum.value < 0 ? '-' + format(-datum.value, '.2f') : format(datum.value, '.2f')", "title": null, "zindex": 1}},
    "y2": {"datum": 1.962}}},
  {"data": {"values": [{}]}, "mark": {"type": "rect", "fill": "#d9dbde"},
   "encoding": {"x": {"datum": -25.33, "type": "quantitative"}, "x2": {"datum": 103.33}, "y": {"datum": -0.892, "type": "quantitative"}, "y2": {"datum": 1.962}}},
  {"data": {"values": [{}]}, "mark": {"type": "rect", "fill": "#ffffff"},
   "encoding": {"x": {"datum": 0, "type": "quantitative"}, "x2": {"datum": 100}, "y": {"datum": -0.65, "type": "quantitative"}, "y2": {"datum": 1.72}}},
  {"data": {"name": "ygrid"}, "transform": [{"filter": "datum.panel == 'KM'"}], "mark": {"type": "rule", "stroke": "#8c8c8c", "strokeWidth": 2}, "encoding": {"y": {"field": "val", "type": "quantitative"}}},
  {"data": {"name": "xgrid"}, "mark": {"type": "rule", "stroke": "#8c8c8c", "strokeWidth": 2}, "encoding": {"x": {"field": "pct", "type": "quantitative"}}},
  {"data": {"name": "gait"}, "transform": [{"filter": "datum.panel == 'KM'"}], "mark": {"type": "area", "fill": "#a2a2a2", "stroke": "#8a8a8a", "strokeWidth": 1.5}, "encoding": {"x": {"field": "pct", "type": "quantitative"}, "y": {"field": "hi", "type": "quantitative"}, "y2": {"field": "lo"}}},
  {"data": {"name": "gait"}, "transform": [{"filter": "datum.panel == 'KM'"}, {"fold": ["t1", "t2", "t3"], "as": ["trial", "val"]}], "mark": {"type": "line", "stroke": "#1a4aa3", "strokeWidth": 3}, "encoding": {"x": {"field": "pct", "type": "quantitative"}, "y": {"field": "val", "type": "quantitative"}, "detail": {"field": "trial", "type": "nominal"}}},
  {"data": {"name": "gait"}, "transform": [{"filter": "datum.panel == 'KM'"}, {"fold": ["t1", "t2", "t3"], "as": ["trial", "val"]}], "mark": {"type": "line", "stroke": "#ffffff", "strokeWidth": 0.9}, "encoding": {"x": {"field": "pct", "type": "quantitative"}, "y": {"field": "val", "type": "quantitative"}, "detail": {"field": "trial", "type": "nominal"}}},
  {"data": {"name": "events"}, "transform": [{"filter": "datum.panel == 'KM'"}], "mark": {"type": "rule", "stroke": "#2457b8", "strokeWidth": 2}, "encoding": {"x": {"field": "toeoff", "type": "quantitative"}}}
 ]
},
{
 "width": 300, "height": 186,
 "layer": [
  {"data": {"values": [{}]}, "mark": {"type": "rect", "fill": "#8d8f92"},
   "encoding": {
    "x": {"datum": -24.67, "type": "quantitative", "scale": {"domain": [0, 100], "nice": false, "zero": false}, "axis": {"values": [0, 20, 40, 60, 80, 100], "tickCount": 20, "title": null, "zindex": 1}},
    "x2": {"datum": 104},
    "y": {"datum": -6.105, "type": "quantitative", "scale": {"domain": [-5.02, 4.59], "nice": false, "zero": false}, "axis": {"orient": "left", "tickCount": 20, "labelOverlap": false, "values": [4.59, 2.5, 0, -2.5, -5.02], "labelExpr": "datum.value < 0 ? '-' + format(-datum.value, '.2f') : format(datum.value, '.2f')", "title": null, "zindex": 1}},
    "y2": {"datum": 5.572}}},
  {"data": {"values": [{}]}, "mark": {"type": "rect", "fill": "#d9dbde"},
   "encoding": {"x": {"datum": -25.33, "type": "quantitative"}, "x2": {"datum": 103.33}, "y": {"datum": -6.002, "type": "quantitative"}, "y2": {"datum": 5.572}}},
  {"data": {"values": [{}]}, "mark": {"type": "rect", "fill": "#ffffff"},
   "encoding": {"x": {"datum": 0, "type": "quantitative"}, "x2": {"datum": 100}, "y": {"datum": -5.02, "type": "quantitative"}, "y2": {"datum": 4.59}}},
  {"data": {"name": "ygrid"}, "transform": [{"filter": "datum.panel == 'KP'"}], "mark": {"type": "rule", "stroke": "#8c8c8c", "strokeWidth": 2}, "encoding": {"y": {"field": "val", "type": "quantitative"}}},
  {"data": {"name": "xgrid"}, "mark": {"type": "rule", "stroke": "#8c8c8c", "strokeWidth": 2}, "encoding": {"x": {"field": "pct", "type": "quantitative"}}},
  {"data": {"name": "gait"}, "transform": [{"filter": "datum.panel == 'KP'"}], "mark": {"type": "area", "fill": "#a2a2a2", "stroke": "#8a8a8a", "strokeWidth": 1.5}, "encoding": {"x": {"field": "pct", "type": "quantitative"}, "y": {"field": "hi", "type": "quantitative"}, "y2": {"field": "lo"}}},
  {"data": {"name": "gait"}, "transform": [{"filter": "datum.panel == 'KP'"}, {"fold": ["t1", "t2", "t3"], "as": ["trial", "val"]}], "mark": {"type": "line", "stroke": "#1a4aa3", "strokeWidth": 3}, "encoding": {"x": {"field": "pct", "type": "quantitative"}, "y": {"field": "val", "type": "quantitative"}, "detail": {"field": "trial", "type": "nominal"}}},
  {"data": {"name": "gait"}, "transform": [{"filter": "datum.panel == 'KP'"}, {"fold": ["t1", "t2", "t3"], "as": ["trial", "val"]}], "mark": {"type": "line", "stroke": "#ffffff", "strokeWidth": 0.9}, "encoding": {"x": {"field": "pct", "type": "quantitative"}, "y": {"field": "val", "type": "quantitative"}, "detail": {"field": "trial", "type": "nominal"}}},
  {"data": {"name": "events"}, "transform": [{"filter": "datum.panel == 'KP'"}], "mark": {"type": "rule", "stroke": "#2457b8", "strokeWidth": 2}, "encoding": {"x": {"field": "toeoff", "type": "quantitative"}}}
 ]
},
{
 "width": 300, "height": 186,
 "layer": [
  {"data": {"values": [{}]}, "mark": {"type": "rect", "fill": "#8d8f92"},
   "encoding": {
    "x": {"datum": -24.67, "type": "quantitative", "scale": {"domain": [0, 100], "nice": false, "zero": false}, "axis": {"values": [0, 20, 40, 60, 80, 100], "tickCount": 20, "title": null, "zindex": 1}},
    "x2": {"datum": 104},
    "y": {"datum": -30.45, "type": "quantitative", "scale": {"domain": [-21.3, 59.7], "nice": false, "zero": false}, "axis": {"orient": "left", "tickCount": 20, "labelOverlap": false, "values": [59.7, 40, 20, 0, -20, -21.3], "labelExpr": "datum.value == -20 ? '' : (datum.value < 0 ? '-' + format(-datum.value, '.1f') : format(datum.value, '.1f'))", "title": "Hip", "titleX": -167, "titleY": 97, "zindex": 1}},
    "y2": {"datum": 67.97}}},
  {"data": {"values": [{}]}, "mark": {"type": "rect", "fill": "#d9dbde"},
   "encoding": {"x": {"datum": -25.33, "type": "quantitative"}, "x2": {"datum": 103.33}, "y": {"datum": -29.57, "type": "quantitative"}, "y2": {"datum": 67.97}}},
  {"data": {"values": [{}]}, "mark": {"type": "rect", "fill": "#ffffff"},
   "encoding": {"x": {"datum": 0, "type": "quantitative"}, "x2": {"datum": 100}, "y": {"datum": -21.3, "type": "quantitative"}, "y2": {"datum": 59.7}}},
  {"data": {"name": "ygrid"}, "transform": [{"filter": "datum.panel == 'HK'"}], "mark": {"type": "rule", "stroke": "#8c8c8c", "strokeWidth": 2}, "encoding": {"y": {"field": "val", "type": "quantitative"}}},
  {"data": {"name": "xgrid"}, "mark": {"type": "rule", "stroke": "#8c8c8c", "strokeWidth": 2}, "encoding": {"x": {"field": "pct", "type": "quantitative"}}},
  {"data": {"name": "gait"}, "transform": [{"filter": "datum.panel == 'HK'"}], "mark": {"type": "area", "fill": "#a2a2a2", "stroke": "#8a8a8a", "strokeWidth": 1.5}, "encoding": {"x": {"field": "pct", "type": "quantitative"}, "y": {"field": "hi", "type": "quantitative"}, "y2": {"field": "lo"}}},
  {"data": {"name": "gait"}, "transform": [{"filter": "datum.panel == 'HK'"}, {"fold": ["t1", "t2", "t3", "t4", "t5", "t6"], "as": ["trial", "val"]}], "mark": {"type": "line", "stroke": "#1a4aa3", "strokeWidth": 3}, "encoding": {"x": {"field": "pct", "type": "quantitative"}, "y": {"field": "val", "type": "quantitative"}, "detail": {"field": "trial", "type": "nominal"}}},
  {"data": {"name": "gait"}, "transform": [{"filter": "datum.panel == 'HK'"}, {"fold": ["t1", "t2", "t3", "t4", "t5", "t6"], "as": ["trial", "val"]}], "mark": {"type": "line", "stroke": "#ffffff", "strokeWidth": 0.9}, "encoding": {"x": {"field": "pct", "type": "quantitative"}, "y": {"field": "val", "type": "quantitative"}, "detail": {"field": "trial", "type": "nominal"}}},
  {"data": {"name": "events"}, "transform": [{"filter": "datum.panel == 'HK'"}], "mark": {"type": "rule", "stroke": "#2457b8", "strokeWidth": 2}, "encoding": {"x": {"field": "toeoff", "type": "quantitative"}}}
 ]
},
{
 "width": 300, "height": 186,
 "layer": [
  {"data": {"values": [{}]}, "mark": {"type": "rect", "fill": "#8d8f92"},
   "encoding": {
    "x": {"datum": -24.67, "type": "quantitative", "scale": {"domain": [0, 100], "nice": false, "zero": false}, "axis": {"values": [0, 20, 40, 60, 80, 100], "tickCount": 20, "title": null, "zindex": 1}},
    "x2": {"datum": 104},
    "y": {"datum": -1.812, "type": "quantitative", "scale": {"domain": [-1.44, 1.85], "nice": false, "zero": false}, "axis": {"orient": "left", "tickCount": 20, "labelOverlap": false, "values": [1.85, 1, 0, -1, -1.44], "labelExpr": "datum.value == -1 ? '' : (datum.value < 0 ? '-' + format(-datum.value, '.2f') : format(datum.value, '.2f'))", "title": null, "zindex": 1}},
    "y2": {"datum": 2.186}}},
  {"data": {"values": [{}]}, "mark": {"type": "rect", "fill": "#d9dbde"},
   "encoding": {"x": {"datum": -25.33, "type": "quantitative"}, "x2": {"datum": 103.33}, "y": {"datum": -1.776, "type": "quantitative"}, "y2": {"datum": 2.186}}},
  {"data": {"values": [{}]}, "mark": {"type": "rect", "fill": "#ffffff"},
   "encoding": {"x": {"datum": 0, "type": "quantitative"}, "x2": {"datum": 100}, "y": {"datum": -1.44, "type": "quantitative"}, "y2": {"datum": 1.85}}},
  {"data": {"name": "ygrid"}, "transform": [{"filter": "datum.panel == 'HM'"}], "mark": {"type": "rule", "stroke": "#8c8c8c", "strokeWidth": 2}, "encoding": {"y": {"field": "val", "type": "quantitative"}}},
  {"data": {"name": "xgrid"}, "mark": {"type": "rule", "stroke": "#8c8c8c", "strokeWidth": 2}, "encoding": {"x": {"field": "pct", "type": "quantitative"}}},
  {"data": {"name": "gait"}, "transform": [{"filter": "datum.panel == 'HM'"}], "mark": {"type": "area", "fill": "#a2a2a2", "stroke": "#8a8a8a", "strokeWidth": 1.5}, "encoding": {"x": {"field": "pct", "type": "quantitative"}, "y": {"field": "hi", "type": "quantitative"}, "y2": {"field": "lo"}}},
  {"data": {"name": "gait"}, "transform": [{"filter": "datum.panel == 'HM'"}, {"fold": ["t1", "t2", "t3"], "as": ["trial", "val"]}], "mark": {"type": "line", "stroke": "#1a4aa3", "strokeWidth": 3}, "encoding": {"x": {"field": "pct", "type": "quantitative"}, "y": {"field": "val", "type": "quantitative"}, "detail": {"field": "trial", "type": "nominal"}}},
  {"data": {"name": "gait"}, "transform": [{"filter": "datum.panel == 'HM'"}, {"fold": ["t1", "t2", "t3"], "as": ["trial", "val"]}], "mark": {"type": "line", "stroke": "#ffffff", "strokeWidth": 0.9}, "encoding": {"x": {"field": "pct", "type": "quantitative"}, "y": {"field": "val", "type": "quantitative"}, "detail": {"field": "trial", "type": "nominal"}}},
  {"data": {"name": "events"}, "transform": [{"filter": "datum.panel == 'HM'"}], "mark": {"type": "rule", "stroke": "#2457b8", "strokeWidth": 2}, "encoding": {"x": {"field": "toeoff", "type": "quantitative"}}}
 ]
},
{
 "width": 300, "height": 186,
 "layer": [
  {"data": {"values": [{}]}, "mark": {"type": "rect", "fill": "#8d8f92"},
   "encoding": {
    "x": {"datum": -24.67, "type": "quantitative", "scale": {"domain": [0, 100], "nice": false, "zero": false}, "axis": {"values": [0, 20, 40, 60, 80, 100], "tickCount": 20, "title": null, "zindex": 1}},
    "x2": {"datum": 104},
    "y": {"datum": -2.147, "type": "quantitative", "scale": {"domain": [-1.58, 3.44], "nice": false, "zero": false}, "axis": {"orient": "left", "tickCount": 20, "labelOverlap": false, "values": [3.44, 2, 0, -1.58], "labelExpr": "datum.value < 0 ? '-' + format(-datum.value, '.2f') : format(datum.value, '.2f')", "title": null, "zindex": 1}},
    "y2": {"datum": 3.953}}},
  {"data": {"values": [{}]}, "mark": {"type": "rect", "fill": "#d9dbde"},
   "encoding": {"x": {"datum": -25.33, "type": "quantitative"}, "x2": {"datum": 103.33}, "y": {"datum": -2.093, "type": "quantitative"}, "y2": {"datum": 3.953}}},
  {"data": {"values": [{}]}, "mark": {"type": "rect", "fill": "#ffffff"},
   "encoding": {"x": {"datum": 0, "type": "quantitative"}, "x2": {"datum": 100}, "y": {"datum": -1.58, "type": "quantitative"}, "y2": {"datum": 3.44}}},
  {"data": {"name": "ygrid"}, "transform": [{"filter": "datum.panel == 'HP'"}], "mark": {"type": "rule", "stroke": "#8c8c8c", "strokeWidth": 2}, "encoding": {"y": {"field": "val", "type": "quantitative"}}},
  {"data": {"name": "xgrid"}, "mark": {"type": "rule", "stroke": "#8c8c8c", "strokeWidth": 2}, "encoding": {"x": {"field": "pct", "type": "quantitative"}}},
  {"data": {"name": "gait"}, "transform": [{"filter": "datum.panel == 'HP'"}], "mark": {"type": "area", "fill": "#a2a2a2", "stroke": "#8a8a8a", "strokeWidth": 1.5}, "encoding": {"x": {"field": "pct", "type": "quantitative"}, "y": {"field": "hi", "type": "quantitative"}, "y2": {"field": "lo"}}},
  {"data": {"name": "gait"}, "transform": [{"filter": "datum.panel == 'HP'"}, {"fold": ["t1", "t2", "t3"], "as": ["trial", "val"]}], "mark": {"type": "line", "stroke": "#1a4aa3", "strokeWidth": 3}, "encoding": {"x": {"field": "pct", "type": "quantitative"}, "y": {"field": "val", "type": "quantitative"}, "detail": {"field": "trial", "type": "nominal"}}},
  {"data": {"name": "gait"}, "transform": [{"filter": "datum.panel == 'HP'"}, {"fold": ["t1", "t2", "t3"], "as": ["trial", "val"]}], "mark": {"type": "line", "stroke": "#ffffff", "strokeWidth": 0.9}, "encoding": {"x": {"field": "pct", "type": "quantitative"}, "y": {"field": "val", "type": "quantitative"}, "detail": {"field": "trial", "type": "nominal"}}},
  {"data": {"name": "events"}, "transform": [{"filter": "datum.panel == 'HP'"}], "mark": {"type": "rule", "stroke": "#2457b8", "strokeWidth": 2}, "encoding": {"x": {"field": "toeoff", "type": "quantitative"}}}
 ]
}
],
"config": {
 "view": {"stroke": null},
 "axis": {"domain": false, "grid": false, "labelFont": "DejaVu Sans", "labelFontSize": 18, "labelColor": "#222222", "tickColor": "#1a1a1a", "tickWidth": 2, "labelOverlap": false, "titleFont": "DejaVu Sans", "titleFontSize": 26, "titleFontWeight": "bold", "titleColor": "#000000"},
 "axisX": {"offset": 5, "tickSize": 9, "labels": false},
 "axisY": {"offset": 4, "tickSize": 8, "labelPadding": 3, "titleAngle": 0, "titleAlign": "left", "titleBaseline": "middle"},
 "title": {"font": "DejaVu Sans", "fontSize": 26, "fontWeight": "bold", "color": "#000000", "frame": "group", "anchor": "middle", "offset": 12}
}
}
